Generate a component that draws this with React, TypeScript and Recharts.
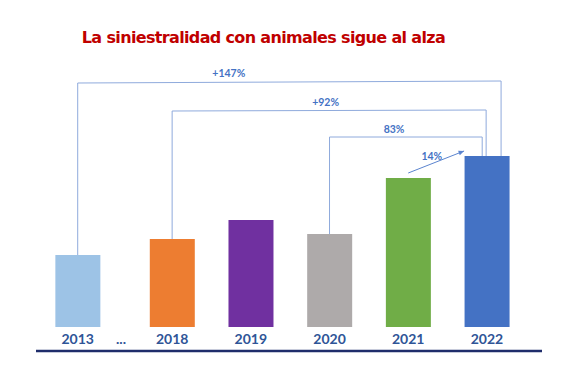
import React from 'react';
import {
  ComposedChart, Bar, Cell, XAxis, YAxis, ReferenceLine, ReferenceDot,
} from 'recharts';

const years = ['2013', '2018', '2019', '2020', '2021', '2022'];
const siniestros = [72, 88, 107, 93, 149, 171];
const barColors = ['#9DC3E6', '#ED7D31', '#7030A0', '#AEAAAA', '#70AD47', '#4472C4'];
const gapLabel = '...';
const variaciones = ['+147%', '+92%', '83%', '14%'];

// 2013 sits a little further from 2018 because of the "..." gap
const slotOf = (i: number) => (i === 0 ? 0 : i + 0.2);
const data = years.map((y, i) => ({ year: y, slot: slotOf(i), value: siniestros[i] }));
const gapSlot = 0.55;
const ticks = [0, gapSlot, ...years.slice(1).map((_, i) => slotOf(i + 1))];

const LINE = '#8FAADC';
const TXT = '#4472C4';
const last = data[data.length - 1];

// bracket annotations: from year -> 2022
const brackets = [
  { from: 0, top: [244, 246], right: 5.38, label: variaciones[0], lx: 1.92, ly: 254 },
  { from: 1, top: [216, 217], right: 5.19, label: variaciones[1], lx: 3.15, ly: 225 },
  { from: 3, top: [190, 190], right: 5.14, label: variaciones[2], lx: 4.02, ly: 198 },
];

const labelStyle = { fill: TXT, fontSize: 10.5, fontWeight: 700, fontFamily: 'Lato' };

const YearTick = (props: any) => {
  const { x, y, payload } = props;
  const v = payload.value;
  const idx = data.findIndex((d) => Math.abs(d.slot - v) < 0.01);
  const text = idx >= 0 ? data[idx].year : gapLabel;
  return (
    <text x={x} y={y - 13} textAnchor="middle" dominantBaseline="middle"
      fill="#2F5597" fontSize={14} fontWeight={700} fontFamily="Lato">
      {text}
    </text>
  );
};

const Arrow = (props: any) => {
  const { x1, y1, x2, y2 } = props;
  if (x1 == null) return null;
  const ang = Math.atan2(y2 - y1, x2 - x1);
  const s = 6;
  const p1 = `${x2},${y2}`;
  const p2 = `${x2 - s * Math.cos(ang - 0.4)},${y2 - s * Math.sin(ang - 0.4)}`;
  const p3 = `${x2 - s * Math.cos(ang + 0.4)},${y2 - s * Math.sin(ang + 0.4)}`;
  return (
    <g>
      <line x1={x1} y1={y1} x2={x2} y2={y2} stroke="#5B84CF" strokeWidth={1} />
      <polygon points={`${p1} ${p2} ${p3}`} fill="#5B84CF" />
    </g>
  );
};

export default function App() {
  return (
    <div style={{ position: 'relative', width: 564, height: 366, background: '#fff' }}>
      <style>{'body{margin:0}'}</style>
      <div style={{
        position: 'absolute', top: 28, left: 0, width: 527, textAlign: 'center',
        color: '#C00000', fontWeight: 700, fontSize: 16, fontFamily: '"DejaVu Sans"',
        letterSpacing: -0.65,
      }}>
        La siniestralidad con animales sigue al alza
      </div>
      <ComposedChart width={564} height={366} data={data}
        margin={{ top: 67, right: 22, left: 36, bottom: 5 }}>
        <XAxis dataKey="slot" type="number" domain={[-0.53, 5.9]} ticks={ticks}
          interval={0} height={10} tickLine={false} tickSize={0} tick={<YearTick />}
          axisLine={{ stroke: '#1F2D6B', strokeWidth: 2.5 }} />
        <YAxis hide type="number" domain={[-24, 260]} />
        <Bar dataKey="value" barSize={45} isAnimationActive={false}>
          {data.map((d, i) => <Cell key={d.year} fill={barColors[i]} />)}
        </Bar>
        {brackets.map((b) => {
          const src = data[b.from];
          return (
            <React.Fragment key={b.label}>
              <ReferenceLine segment={[{ x: src.slot, y: src.value }, { x: src.slot, y: b.top[0] }]}
                stroke={LINE} strokeWidth={1} />
              <ReferenceLine segment={[{ x: src.slot, y: b.top[0] }, { x: b.right, y: b.top[1] }]}
                stroke={LINE} strokeWidth={1} />
              <ReferenceLine segment={[{ x: b.right, y: b.top[1] }, { x: b.right, y: last.value }]}
                stroke={LINE} strokeWidth={1} />
              <ReferenceDot x={b.lx} y={b.ly} r={0} stroke="none" fill="none"
                label={{ value: b.label, position: 'center', ...labelStyle }} />
            </React.Fragment>
          );
        })}
        <ReferenceLine segment={[{ x: data[4].slot, y: 154 }, { x: 4.91, y: 176 }]}
          shape={<Arrow />} />
        <ReferenceDot x={4.5} y={171} r={0} stroke="none" fill="none"
          label={{ value: variaciones[3], position: 'center', ...labelStyle }} />
      </ComposedChart>
    </div>
  );
}
